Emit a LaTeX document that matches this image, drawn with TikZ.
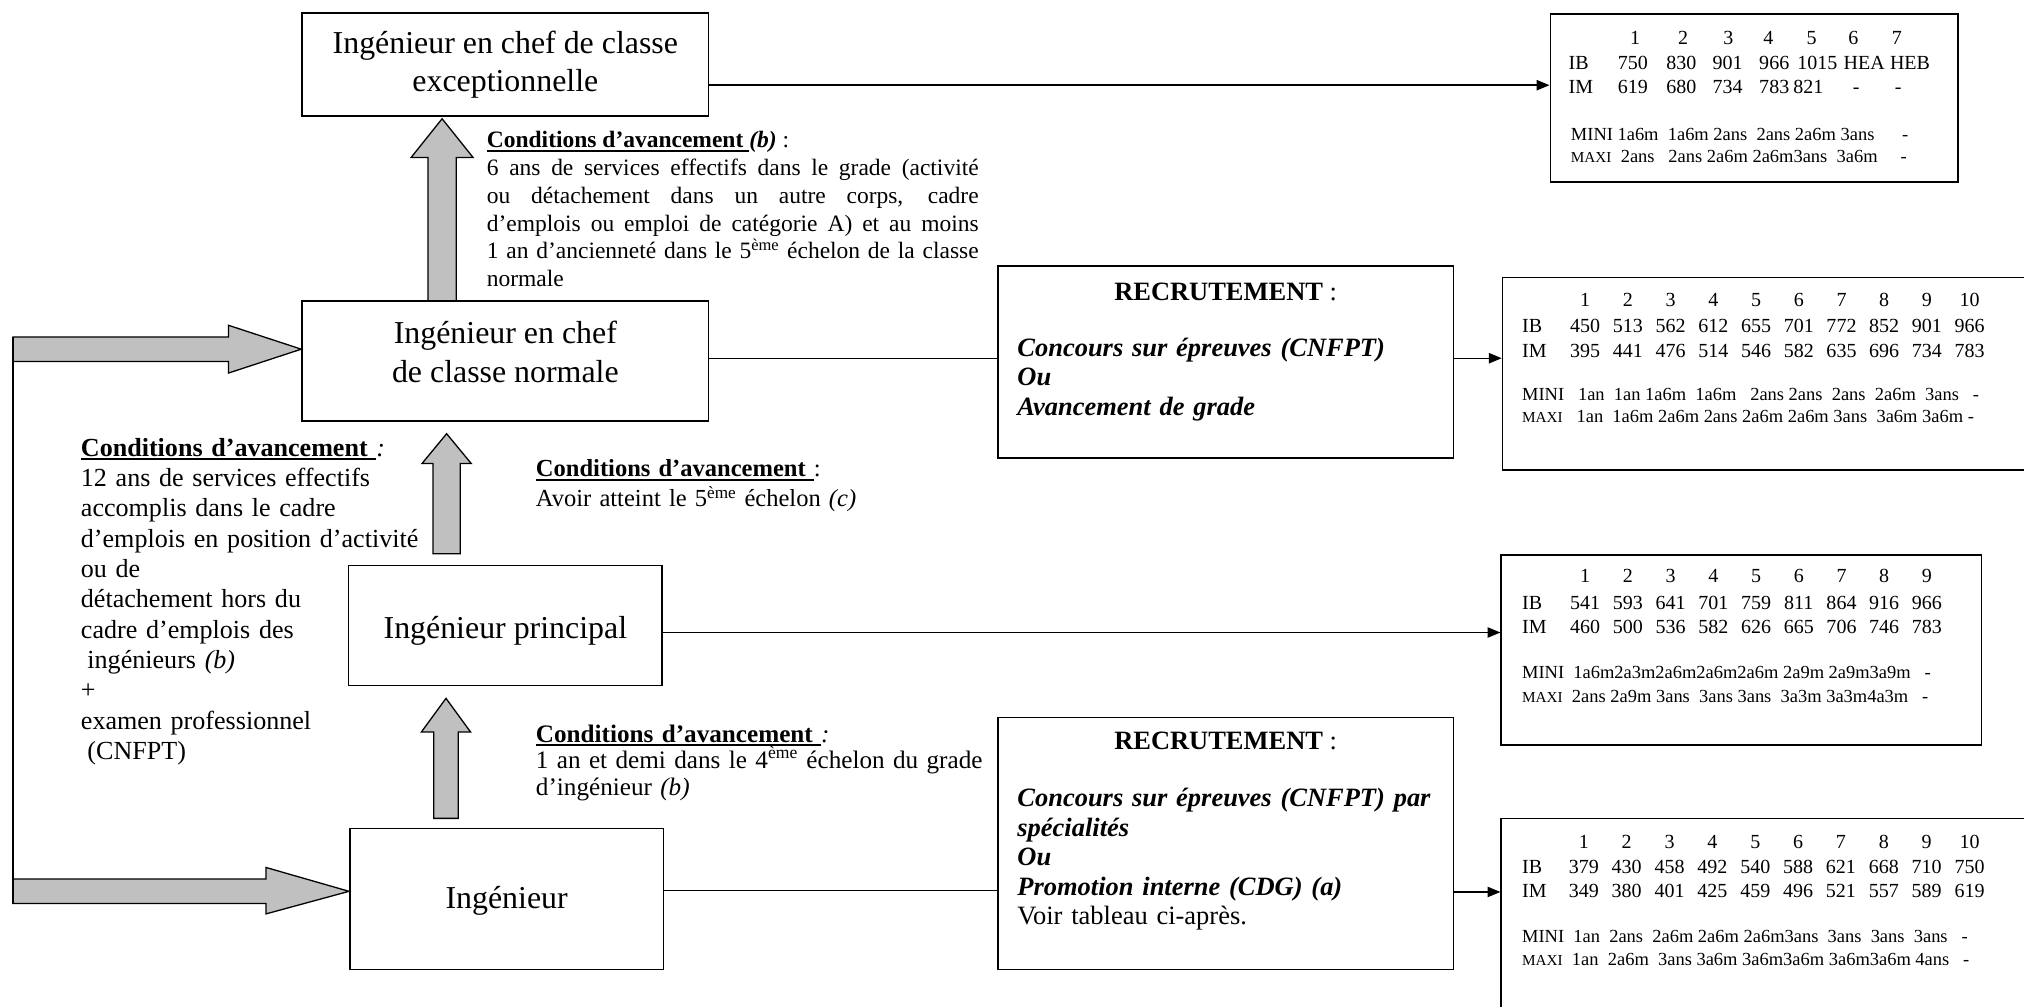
\documentclass[tikz,border=0pt]{standalone}
\usepackage{fontspec}
\setmainfont{Liberation Serif}
\usetikzlibrary{arrows.meta,calc}
\definecolor{arrowgray}{HTML}{C0C0C0}
\newsavebox\myulbox
\newcommand\myul[1]{\sbox\myulbox{#1}\rlap{\rule[-0.16em]{\wd\myulbox}{0.075em}}\usebox\myulbox}
\newcommand\maxiw{{\fontsize{11.8}{12}\selectfont MAXI}}
\newcommand\urow[5]{\foreach \vv [count=\ii] in {#5}{\node[tab] (#1-\ii) at ({#3+(\ii-1)*#4},#2) {\vv};}}
\tikzset{
  box/.style={draw, line width=1.2pt, inner sep=0pt},
  bigtxt/.style={font=\fontsize{24.7}{30}\selectfont, align=center, inner sep=0pt},
  rtxt/.style={font=\fontsize{20.5}{22.8}\selectfont, inner sep=0pt},
  conn/.style={line width=1.1pt},
  connarr/.style={line width=1.1pt, -{Triangle[length=10pt,width=8pt]}},
  garrow/.style={draw, line width=1pt, fill=arrowgray, line join=miter},
  tab/.style={font=\fontsize{15.5}{18}\selectfont, inner sep=0pt, anchor=base},
  tablab/.style={font=\fontsize{15.5}{18}\selectfont, inner sep=0pt, anchor=base west},
  tabsmall/.style={font=\fontsize{14.3}{17}\selectfont, inner sep=0pt, anchor=base west},
  cond/.style={inner sep=0pt, anchor=base west},
}
\begin{document}
\begin{tikzpicture}[x=1pt,y=-1pt]
\useasboundingbox (0,0) rectangle (1568,780.1);
\clip (0,0) rectangle (1568,780.1);

% ---------- grade boxes ----------
\node[box, bigtxt, minimum width=315pt, minimum height=80pt] (A) at (391.5,50) {Ingénieur en chef de classe\\exceptionnelle};
\node[box, minimum width=315pt, minimum height=93pt] (B) at (391.5,279.5) {};
\node[bigtxt] (Bt) at (391.5,272.5) {Ingénieur en chef\\de classe normale};
\node[box, minimum width=243pt, minimum height=93pt] (C) at (391.5,484.5) {};
\node[bigtxt] (Ct) at (391.5,489) {Ingénieur principal};
\node[box, minimum width=243pt, minimum height=109pt] (D) at (392.5,696.5) {};
\node[bigtxt] (Dt) at (392.5,698) {Ingénieur};

% ---------- recruitment boxes ----------
\node[box, minimum width=353pt, minimum height=149pt] (R1) at (949.5,280.5) {};
\node[rtxt, anchor=base] (R1h) at (949.5,233) {\textbf{RECRUTEMENT} :};
\node[rtxt, anchor=base west, text width=330pt, align=left] (R1b) at (788,276)
 {\textbf{\textit{Concours sur épreuves (CNFPT)}}\\ \textbf{\textit{Ou}}\\ \textbf{\textit{Avancement de grade}}};
\node[box, minimum width=353pt, minimum height=195pt] (R2) at (949.5,653.5) {};
\node[rtxt, anchor=base] (R2h) at (949.5,581) {\textbf{RECRUTEMENT} :};
\node[rtxt, anchor=base west, text width=330pt, align=left] (R2b) at (788,625)
 {\textbf{\textit{Concours sur épreuves (CNFPT) par}}\\ \textbf{\textit{spécialités}}\\ \textbf{\textit{Ou}}\\ \textbf{\textit{Promotion interne (CDG) (a)}}\\ Voir tableau ci-après.};

% ---------- table boxes ----------
\node[box, minimum width=316pt, minimum height=130pt] (T1) at (1359,76) {};
\node[box, minimum width=436pt, minimum height=149pt] (T2) at (1382,289.5) {};
\node[box, minimum width=372pt, minimum height=147pt] (T3) at (1349,503.5) {};
\node[box, minimum width=437pt, minimum height=196pt] (T4) at (1381.5,732) {};

% table 1
\foreach \xx/\vv [count=\ii] in {1266.7/1,1304/2,1339/3,1370/4,1403.5/5,1435.8/6,1469.4/7}
  {\node[tab] (T1h-\ii) at (\xx,34.5) {\vv};}
\node[tablab] (T1ib) at (1215,54) {IB};
\foreach \xx/\vv [count=\ii] in {1265/750,1302.6/830,1338.3/901,1374.5/966,1408/1015,1444.2/HEA,1479.7/HEB}
  {\node[tab] (T1b-\ii) at (\xx,54) {\vv};}
\node[tablab] (T1im) at (1215,72.5) {IM};
\foreach \xx/\vv [count=\ii] in {1265/619,1302.6/680,1338.3/734,1374.5/783,1401/821,1437.9/-,1470.6/-}
  {\node[tab] (T1m-\ii) at (\xx,72.5) {\vv};}
\node[tabsmall] (T1mini) at (1216.8,108.5) {MINI~1a6m~~1a6m~2ans~~2ans~2a6m~3ans~~~~~~-};
\node[tabsmall] (T1maxi) at (1216.8,126) {\maxiw~~2ans~~~2ans~2a6m~2a6m3ans~~3a6m~~~~~-};

% table 2
\urow{T2h}{237.5}{1228}{33.1}{1,2,3,4,5,6,7,8,9,10}
\node[tablab] (T2ib) at (1179,257.5) {IB};
\urow{T2b}{257.5}{1228}{33.1}{450,513,562,612,655,701,772,852,901,966}
\node[tablab] (T2im) at (1179,277) {IM};
\urow{T2m}{277}{1228}{33.1}{395,441,476,514,546,582,635,696,734,783}
\node[tabsmall] (T2mini) at (1179,310.5) {MINI~~~1an~~1an~1a6m~~1a6m~~~2ans~2ans~~2ans~~2a6m~~3ans~~~-};
\node[tabsmall] (T2maxi) at (1179,327.5) {\maxiw~~~1an~~1a6m~2a6m~2ans~2a6m~2a6m~3ans~~3a6m~3a6m~-};

% table 3
\urow{T3h}{451.5}{1228}{33.1}{1,2,3,4,5,6,7,8,9}
\node[tablab] (T3ib) at (1179,472) {IB};
\urow{T3b}{472}{1228}{33.1}{541,593,641,701,759,811,864,916,966}
\node[tablab] (T3im) at (1179,491) {IM};
\urow{T3m}{491}{1228}{33.1}{460,500,536,582,626,665,706,746,783}
\node[tabsmall] (T3mini) at (1179,526) {MINI~~1a6m2a3m2a6m2a6m2a6m~2a9m~2a9m3a9m~~~-};
\node[tabsmall] (T3maxi) at (1179,544) {\maxiw~~2ans~2a9m~3ans~~3ans~3ans~~3a3m~3a3m4a3m~~~-};

% table 4
\urow{T4h}{657}{1227}{33.2}{1,2,3,4,5,6,7,8,9,10}
\node[tablab] (T4ib) at (1179,676.5) {IB};
\urow{T4b}{676.5}{1227}{33.2}{379,430,458,492,540,588,621,668,710,750}
\node[tablab] (T4im) at (1179,695) {IM};
\urow{T4m}{695}{1227}{33.2}{349,380,401,425,459,496,521,557,589,619}
\node[tabsmall] (T4mini) at (1179,730) {MINI~~1an~~2ans~~2a6m~2a6m~2a6m3ans~~3ans~~3ans~~3ans~~~-};
\node[tabsmall] (T4maxi) at (1179,748) {\maxiw~~1an~~2a6m~~3ans~3a6m~3a6m3a6m~3a6m3a6m~4ans~~~-};

% ---------- conditions texts ----------
\node[cond, text width=381pt, align=justify, font=\fontsize{18.2}{21.5}\selectfont] (Ktop) at (377,114.5)
 {\hyphenpenalty=10000\exhyphenpenalty=10000
  \myul{\textbf{Conditions d’avancement }}\textbf{\textit{(b)}} :\\
  6 ans de services effectifs dans le grade (activité\linebreak
  ou détachement dans un autre corps, cadre\linebreak
  d’emplois ou emploi de catégorie A) et au moins\linebreak
  1 an d’ancienneté dans le 5\textsuperscript{ème} échelon de la classe\linebreak
  normale};
\node[cond, text width=400pt, align=left, font=\fontsize{19}{23}\selectfont] (Kmid) at (415,369.5)
 {\myul{\textbf{Conditions d’avancement }}:\\ Avoir atteint le 5\textsuperscript{ème} échelon \textit{(c)}};
\node[cond, text width=320pt, align=left, font=\fontsize{20.2}{23.5}\selectfont] (Kleft) at (62.5,353.3)
 {\myul{\textbf{Conditions d’avancement }}\textit{:}\\ 12 ans de services effectifs\\ accomplis dans le cadre\\
  d’emplois en position d’activité\\ ou de\\ détachement hors du\\ cadre d’emplois des\\
  \hspace*{0.25em}ingénieurs \textit{(b)}\\ +\\ examen professionnel\\ \hspace*{0.25em}(CNFPT)};
\node[cond, text width=400pt, align=left, font=\fontsize{19.5}{20.5}\selectfont] (Kbot) at (415,575)
 {\myul{\textbf{Conditions d’avancement }}\textit{:}\\ 1 an et demi dans le 4\textsuperscript{ème} échelon du grade\\ d’ingénieur \textit{(b)}};

% ---------- connectors ----------
\draw[connarr] ([yshift=-16pt]A.east) -- ([yshift=-16pt]A.east -| T1.west);
\draw[conn] ([yshift=2pt]B.east) -- ([yshift=2pt]B.east -| R1.west);
\draw[connarr] ([yshift=3pt]R1.east) -- ([yshift=3pt]R1.east -| T2.west);
\draw[connarr] ([yshift=-5.5pt]C.east) -- ([yshift=-5.5pt]C.east -| T3.west);
\draw[conn] ([yshift=6.5pt]D.east) -- ([yshift=6.5pt]D.east -| R2.west);
\draw[connarr] ([yshift=-37.5pt]R2.east) -- ([yshift=-37.5pt]R2.east -| T4.west);

% ---------- grey block arrows ----------
\draw[garrow] (331.5,233) -- (331.5,122) -- (318.5,122) -- (342.5,92) -- (366.5,122) -- (353.5,122) -- (353.5,233) -- cycle;
\draw[garrow] (335.5,429) -- (335.5,359) -- (327,359) -- (346,336) -- (365,359) -- (356.5,359) -- (356.5,429) -- cycle;
\draw[garrow] (336,634) -- (336,567) -- (326.5,567) -- (345.5,541) -- (364.5,567) -- (355,567) -- (355,634) -- cycle;
\draw[garrow] (10,261) -- (177,261) -- (177,252) -- (B.west |- 0,270.5) -- (177,289) -- (177,280) -- (10,280) -- cycle;
\draw[garrow] (10,681) -- (206,681) -- (206,672) -- (D.west |- 0,690.5) -- (206,708) -- (206,700) -- (10,700) -- cycle;
\coordinate (Ltop) at (10,261);
\coordinate (Lbot) at (10,700);
\draw[conn] (Ltop) -- (Lbot);
\end{tikzpicture}
\end{document}
